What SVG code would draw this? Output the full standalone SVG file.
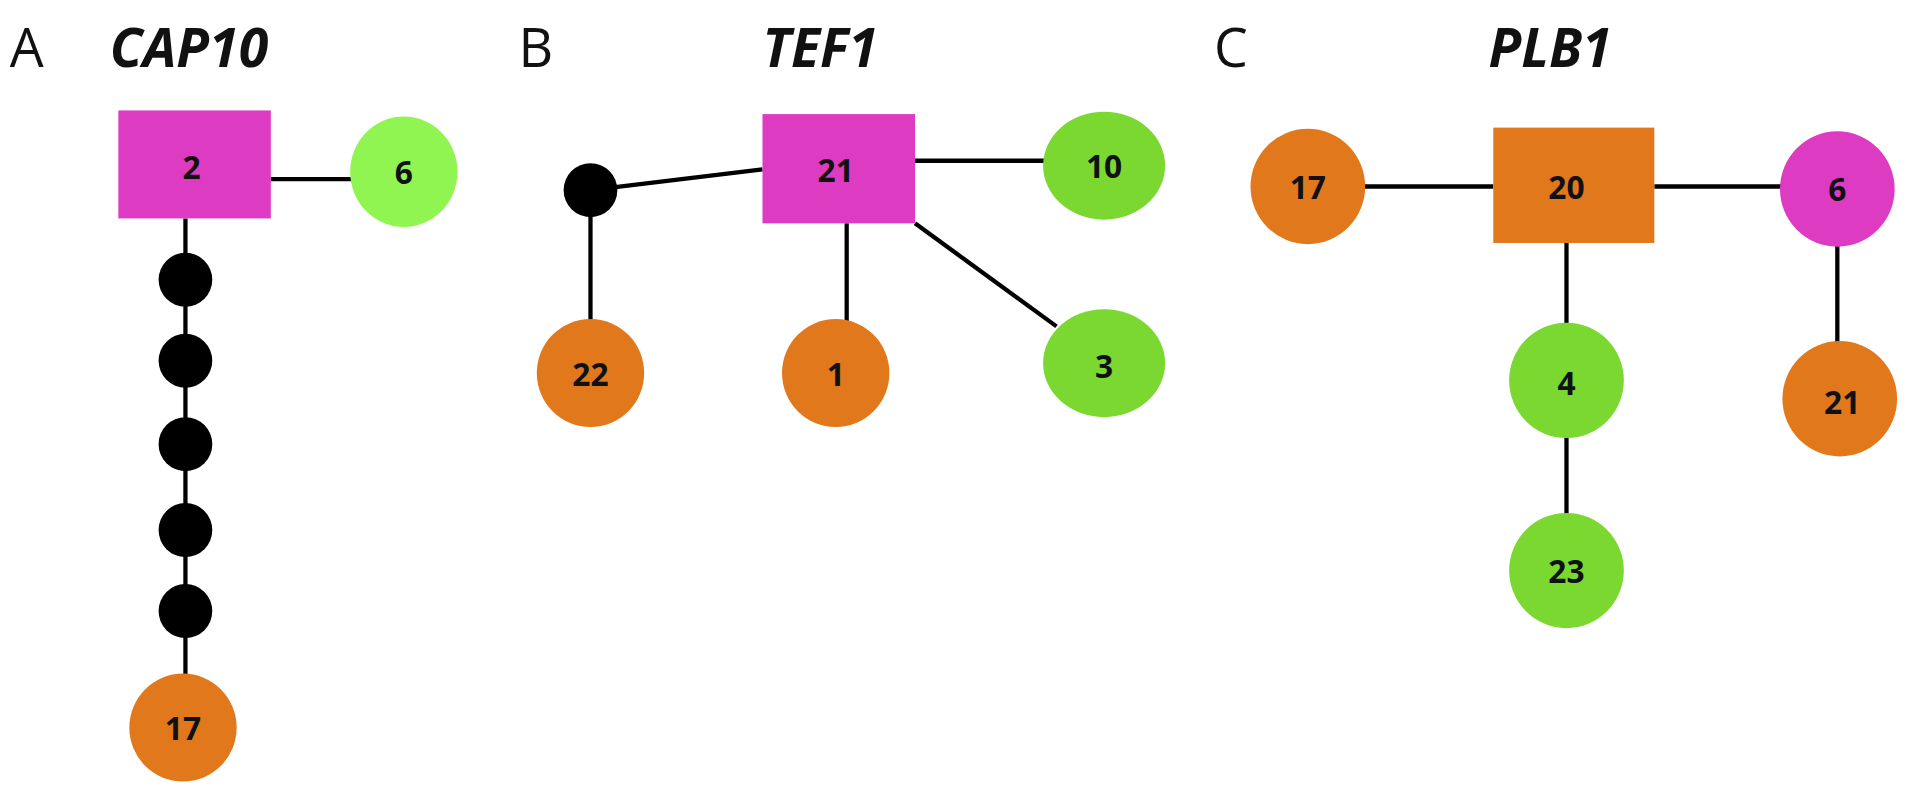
<svg xmlns="http://www.w3.org/2000/svg" width="1913" height="800" viewBox="0 0 1913 800">
<style>
.t{font-family:"Open Sans","Liberation Sans",sans-serif;font-weight:bold;font-size:26px;text-anchor:middle;dominant-baseline:central;fill:#111}
.h{font-family:"Open Sans","Liberation Sans",sans-serif;font-weight:bold;font-style:italic;font-size:44px;fill:#111}
.l{font-family:"Open Sans","Liberation Sans",sans-serif;font-size:44px;fill:#111}
.m{fill:#DD3BC1}.o{fill:#E2781C}.g{fill:#7AD830}.lg{fill:#90F550}
line{stroke:#000;stroke-width:3.5}
</style>
<rect width="1913" height="800" fill="#fff"/>
<g transform="scale(1.22,1.227)">
<g id="titles">
<text class="l" x="8" y="55">A</text><text class="h" x="90" y="55">CAP10</text>
<text class="l" x="425" y="55">B</text><text class="h" x="625" y="55">TEF1</text>
<text class="l" x="995" y="55">C</text><text class="h" x="1220" y="55">PLB1</text>
</g>
<g id="connectors">
<line x1="222" y1="146" x2="288" y2="146"/>
<line x1="152" y1="178" x2="152" y2="550"/>
<line x1="484" y1="155" x2="625" y2="138"/>
<line x1="484" y1="155" x2="484" y2="262"/>
<line x1="750" y1="131" x2="858" y2="131"/>
<line x1="694" y1="182" x2="694" y2="262"/>
<line x1="750" y1="182" x2="866" y2="266"/>
<line x1="1116" y1="152" x2="1224" y2="152"/>
<line x1="1356" y1="152" x2="1460" y2="152"/>
<line x1="1284" y1="198" x2="1284" y2="268"/>
<line x1="1284" y1="350" x2="1284" y2="422"/>
<line x1="1506" y1="198" x2="1506" y2="282"/>
</g>
<g id="a2"><rect class="m" x="97" y="90" width="125" height="88"/><text class="t" x="157" y="136">2</text></g>
<g id="a6"><ellipse class="lg" cx="331" cy="140" rx="44" ry="45"/><text class="t" x="331" y="140">6</text></g>
<g id="a-dots"><circle cx="152" cy="228" r="22"/><circle cx="152" cy="294" r="22"/><circle cx="152" cy="362" r="22"/><circle cx="152" cy="432" r="22"/><circle cx="152" cy="498" r="22"/></g>
<g id="a17"><ellipse class="o" cx="150" cy="593" rx="44" ry="44"/><text class="t" x="150" y="593">17</text></g>
<g id="b21"><rect class="m" x="625" y="93" width="125" height="89"/><text class="t" x="685" y="138">21</text></g>
<g id="b-dot"><circle cx="484" cy="155" r="22"/></g>
<g id="b10"><ellipse class="g" cx="905" cy="135" rx="50" ry="44"/><text class="t" x="905" y="135">10</text></g>
<g id="b22"><ellipse class="o" cx="484" cy="304" rx="44" ry="44"/><text class="t" x="484" y="304">22</text></g>
<g id="b1"><ellipse class="o" cx="685" cy="304" rx="44" ry="44"/><text class="t" x="685" y="304">1</text></g>
<g id="b3"><ellipse class="g" cx="905" cy="296" rx="50" ry="44"/><text class="t" x="905" y="298">3</text></g>
<g id="c17"><ellipse class="o" cx="1072" cy="152" rx="47" ry="47"/><text class="t" x="1072" y="152">17</text></g>
<g id="c20"><rect class="o" x="1224" y="104" width="132" height="94"/><text class="t" x="1284" y="152">20</text></g>
<g id="c6"><ellipse class="m" cx="1506" cy="154" rx="47" ry="47"/><text class="t" x="1506" y="154">6</text></g>
<g id="c4"><ellipse class="g" cx="1284" cy="310" rx="47" ry="47"/><text class="t" x="1284" y="312">4</text></g>
<g id="c23"><ellipse class="g" cx="1284" cy="465" rx="47" ry="47"/><text class="t" x="1284" y="465">23</text></g>
<g id="c21"><ellipse class="o" cx="1508" cy="325" rx="47" ry="47"/><text class="t" x="1510" y="327">21</text></g>
</g>
</svg>
